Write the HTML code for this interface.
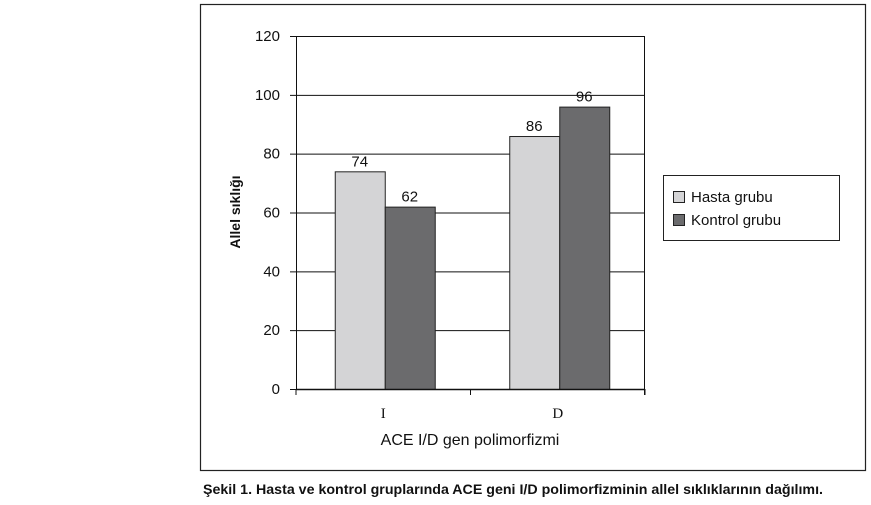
<!DOCTYPE html>
<html><head><meta charset="utf-8"><style>
body{margin:0;background:#fff;width:871px;height:505px;overflow:hidden}
svg{display:block;font-family:"Liberation Sans",sans-serif}
</style></head><body>
<svg width="871" height="505">
<rect x="200.5" y="4.5" width="665" height="466" fill="none" stroke="#222" stroke-width="1.2"/>
<g id="grid"></g><g id="bars"></g><g id="axes"></g>
<text x="240" y="212" transform="rotate(-90 240 212)" text-anchor="middle" font-size="14" font-weight="bold" fill="#111">Allel sıklığı</text>
<text x="470" y="445" text-anchor="middle" font-size="16" fill="#111">ACE I/D gen polimorfizmi</text>
<g>
<rect x="663.5" y="175.5" width="176" height="65" fill="#fff" stroke="#222"/>
<rect x="673.5" y="191.5" width="11" height="11" fill="#d4d4d6" stroke="#222"/>
<text x="691" y="202" font-size="15" fill="#111">Hasta grubu</text>
<rect x="673.5" y="214.5" width="11" height="11" fill="#6b6b6d" stroke="#222"/>
<text x="691" y="225" font-size="15" fill="#111">Kontrol grubu</text>
</g>
<text x="203" y="494" font-size="14" font-weight="bold" fill="#111" textLength="620" lengthAdjust="spacingAndGlyphs">Şekil 1. Hasta ve kontrol gruplarında ACE geni I/D  polimorfizminin  allel sıklıklarının dağılımı.</text>
</svg>
<script>
const categories=["I","D"];
const hasta=[74,86];
const kontrol=[62,96];
const yTicks=[0,20,40,60,80,100,120];
const NS="http://www.w3.org/2000/svg";
const X0=296,X1=645,Y0=389,Y1=36,YMAX=120;
const y=v=>Y0-(v/YMAX)*(Y0-Y1);
const cw=(X1-X0)/categories.length;
const cx=i=>X0+cw*(i+0.5)+1.5;
function mk(t,a,p,txt){const e=document.createElementNS(NS,t);for(const k in a)e.setAttribute(k,a[k]);if(txt!==undefined)e.textContent=txt;document.getElementById(p).appendChild(e);return e;}
yTicks.forEach(v=>{
  const l=mk('line',{x1:X0-6,x2:X1,y1:y(v)+.5,y2:y(v)+.5,stroke:'#111','stroke-width':1},'grid');
  
  
  const t=mk('text',{x:280,y:y(v)+5,'text-anchor':'end','font-size':15,fill:'#111'},'axes',String(v));
  
  
});
const bw=50;
categories.forEach((c,i)=>{
  [[hasta[i],'#d4d4d6',-bw,'hasta'],[kontrol[i],'#6b6b6d',0,'kontrol']].forEach(([v,f,off,n])=>{
    const r=mk('rect',{x:cx(i)+off+.5,y:y(v)+.5,width:bw,height:Y0-y(v),fill:f,stroke:'#222','stroke-width':1},'bars');
    
    
    const t=mk('text',{x:cx(i)+off+bw/2,y:y(v)-5,'text-anchor':'middle','font-size':15,fill:'#111'},'bars',String(v));
    
    
  });
  const t=mk('text',{x:X0+cw*(i+0.5),y:418,'text-anchor':'middle','font-size':15,fill:'#111','font-family':'Liberation Serif,serif'},'axes',c);
  
  
});
const ax=mk('line',{x1:X0+.5,x2:X0+.5,y1:Y1,y2:Y0,stroke:'#111'},'axes');


const rx=mk('line',{x1:X1-.5,x2:X1-.5,y1:Y1,y2:Y0+6,stroke:'#111'},'axes');


const xa=mk('line',{x1:X0,x2:X1,y1:Y0+.5,y2:Y0+.5,stroke:'#111','stroke-width':1.5},'axes');


for(let i=0;i<=categories.length;i++){
  const tk=mk('line',{x1:X0+cw*i,x2:X0+cw*i,y1:Y0,y2:Y0+6,stroke:'#111'},'axes');
  
  
}
</script>
</body></html>
